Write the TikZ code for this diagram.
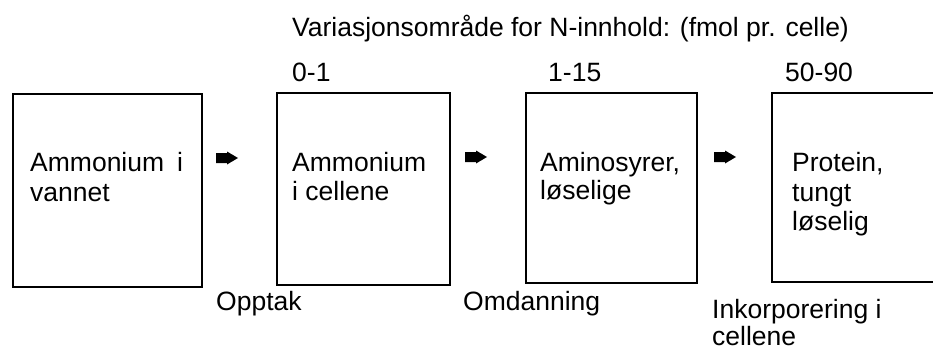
\documentclass[tikz,border=0pt]{standalone}
\usepackage{fontspec}
\setmainfont{Liberation Sans}
\begin{document}
\begin{tikzpicture}[x=1pt,y=-1pt,
  box/.style={draw, line width=2.8pt, inner sep=0pt},
  lbl/.style={anchor=base west, inner sep=0pt, font=\fontsize{26.5}{30}\selectfont},
  blockarrow/.pic={\fill (-11,-5) -- (0,-5) -- (0,-6.5) -- (11,0) -- (0,6.5) -- (0,5) -- (-11,5) -- cycle;}]
\path[use as bounding box] (0,0) rectangle (933,350);
\clip (0,0) rectangle (933,350);

% title and ranges
\node[lbl] (title) at (292,37) {Variasjonsområde for N-innhold: (fmol pr. celle)};
\node[lbl] (r2) at (292,82) {0-1};
\node[lbl] (r3) at (548,82) {1-15};
\node[lbl] (r4) at (785,82) {50-90};

% boxes
\node[box, minimum width=189pt, minimum height=193pt] (b1) at (107.5,190.5) {};
\node[box, minimum width=173pt, minimum height=192pt] (b2) at (363.5,189) {};
\node[box, minimum width=171pt, minimum height=190pt] (b3) at (611.5,188) {};
\node[box, minimum width=168pt, minimum height=189pt] (b4) at (856,187.5) {};

% box texts
\node[lbl] (t1a) at (30,171) {Ammonium\hspace{13pt}i};
\node[lbl] (t1b) at (30,201) {vannet};
\node[lbl] (t2a) at (292,171) {Ammonium};
\node[lbl] (t2b) at (292,200) {i cellene};
\node[lbl] (t3a) at (540,171) {Aminosyrer,};
\node[lbl] (t3b) at (540,199) {løselige};
\node[lbl] (t4a) at (792,171) {Protein,};
\node[lbl] (t4b) at (792,201) {tungt};
\node[lbl] (t4c) at (792,230) {løselig};

% arrows
\coordinate (a1) at (227,158);
\coordinate (a2) at (476,157);
\coordinate (a3) at (725,157);
\pic at (a1) {blockarrow};
\pic at (a2) {blockarrow};
\pic at (a3) {blockarrow};

% process labels
\node[lbl] (p1) at (216,310) {Opptak};
\node[lbl] (p2) at (463,310) {Omdanning};
\node[lbl] (p3a) at (712,318) {Inkorporering i};
\node[lbl] (p3b) at (712,345) {cellene};
\end{tikzpicture}
\end{document}
